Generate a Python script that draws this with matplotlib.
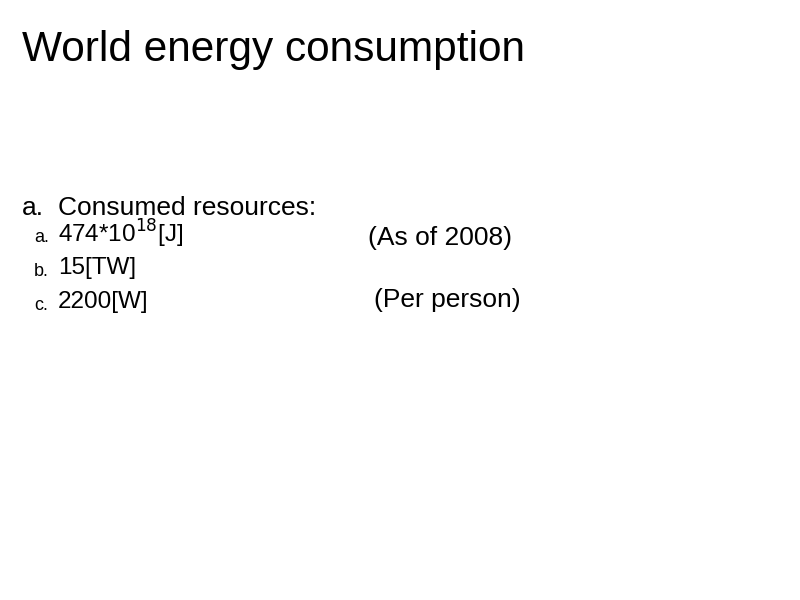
import matplotlib.pyplot as plt

plt.rcParams['font.family'] = ['Liberation Sans', 'DejaVu Sans']

title = "World energy consumption"
heading = "Consumed resources:"
item_marks = ["a.", "b.", "c."]
item_texts = [r"474*10$^{18}$[J]", "15[TW]", "2200[W]"]
notes = ["(As of 2008)", "", "(Per person)"]

W, H = 800, 600
fig = plt.figure(figsize=(8, 6), dpi=100)

def px(x, y):
    return x / W, 1 - y / H

fig.text(*px(22, 50), title, fontsize=30.5, va='center', ha='left')
fig.text(*px(22, 208), "a.", fontsize=19, va='center', ha='left')
fig.text(*px(58, 208), heading, fontsize=19, va='center', ha='left')

rows_y = [234, 268, 302]
note_x = [368, 0, 374]
for y, m, t, n, nx in zip(rows_y, item_marks, item_texts, notes, note_x):
    fig.text(*px(34, y + 3), m, fontsize=13, va='center', ha='left')
    fig.text(*px(58, y), t, fontsize=17.5, va='center', ha='left')
    if n:
        fig.text(*px(nx, y + 4 if y < 250 else y - 2), n, fontsize=19, va='center', ha='left')

fig.savefig("out.png", dpi=100, facecolor='white')
